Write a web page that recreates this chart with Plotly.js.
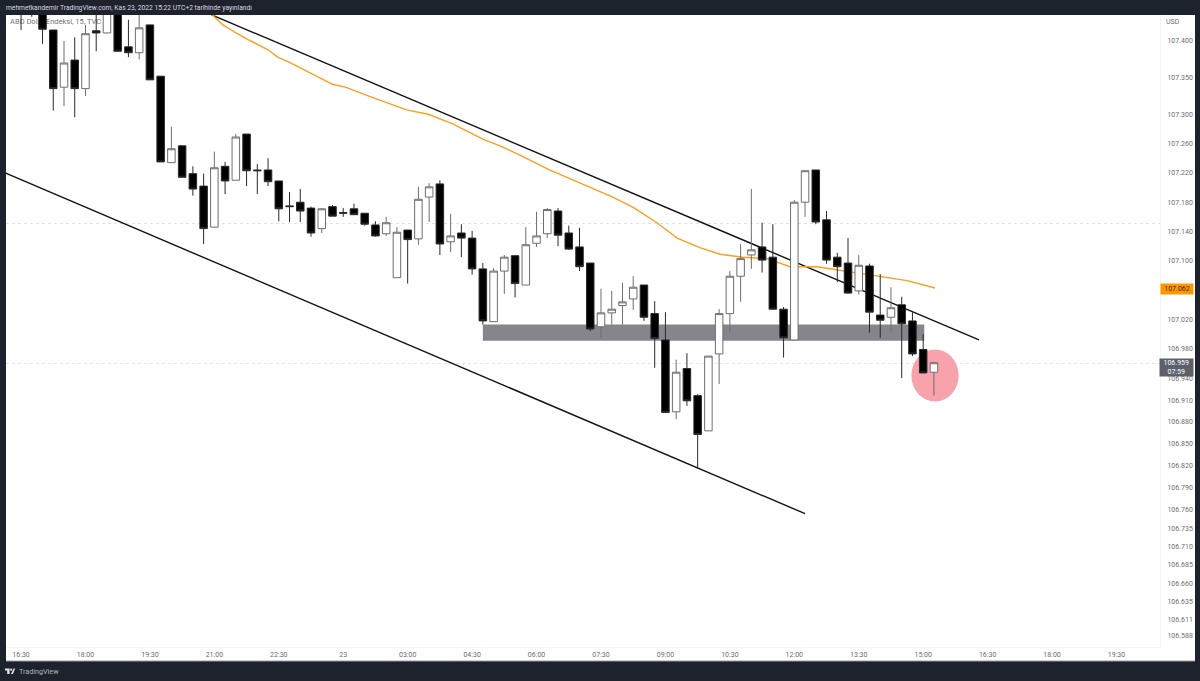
<!DOCTYPE html>
<html><head><meta charset="utf-8">
<script src="https://cdn.plot.ly/plotly-3.0.1.min.js"></script>
<style>html,body{margin:0;padding:0;background:#1e222d}#chart{width:1200px;height:681px}</style>
</head><body><div id="chart"></div>
<script>
const opens = [107.449,107.445,107.449,107.415,107.337,107.374,107.335,107.414,107.411,107.449,107.392,107.384,107.422,107.352,107.234,107.257,107.219,107.202,107.146,107.229,107.210,107.273,107.224,107.224,107.209,107.175,107.180,107.172,107.144,107.174,107.166,107.171,107.165,107.149,107.137,107.077,107.142,107.130,107.187,107.205,107.126,107.138,107.131,107.089,107.017,107.086,107.107,107.067,107.124,107.137,107.168,107.138,107.119,107.097,107.010,107.029,107.039,107.048,107.067,107.028,106.992,106.894,106.953,106.916,106.868,106.973,107.028,107.079,107.108,107.119,107.105,107.034,106.992,107.180,107.224,107.156,107.105,107.097,107.059,107.093,107.026,107.023,107.040,107.018,106.979,106.948];
const highs = [107.452,107.452,107.452,107.415,107.400,107.405,107.422,107.449,107.452,107.452,107.429,107.449,107.422,107.352,107.283,107.257,107.229,107.219,107.249,107.235,107.273,107.273,107.232,107.240,107.209,107.194,107.198,107.174,107.172,107.176,107.172,107.178,107.165,107.154,107.160,107.146,107.142,107.201,107.206,107.210,107.164,107.150,107.141,107.097,107.090,107.108,107.107,107.146,107.167,107.172,107.172,107.148,107.145,107.097,107.062,107.059,107.070,107.079,107.067,107.045,107.030,106.965,106.974,106.918,106.970,107.034,107.086,107.123,107.198,107.152,107.150,107.037,107.183,107.223,107.224,107.168,107.111,107.131,107.108,107.096,107.082,107.064,107.051,107.030,107.000,106.961];
const lows = [107.415,107.433,107.396,107.305,107.311,107.296,107.325,107.386,107.411,107.386,107.378,107.375,107.347,107.235,107.234,107.214,107.189,107.123,107.145,107.191,107.210,107.202,107.191,107.202,107.154,107.153,107.153,107.133,107.138,107.161,107.160,107.163,107.148,107.133,107.134,107.077,107.069,107.122,107.153,107.108,107.112,107.105,107.081,107.013,107.017,107.055,107.050,107.067,107.119,107.131,107.120,107.115,107.086,107.004,106.995,107.013,107.013,107.033,107.018,106.954,106.893,106.884,106.902,106.816,106.868,106.932,107.002,107.044,107.089,107.084,107.034,106.968,106.992,107.160,107.150,107.096,107.071,107.055,107.054,107.002,106.995,107.002,106.940,106.970,106.947,106.916];
const closes = [107.440,107.440,107.416,107.335,107.370,107.335,107.410,107.411,107.449,107.386,107.384,107.418,107.347,107.235,107.253,107.214,107.198,107.144,107.227,107.209,107.269,107.223,107.223,107.208,107.171,107.174,107.168,107.138,107.171,107.161,107.165,107.163,107.150,107.134,107.152,107.139,107.129,107.184,107.201,107.123,107.134,107.131,107.089,107.018,107.086,107.105,107.069,107.122,107.134,107.170,107.135,107.116,107.092,107.007,107.029,107.034,107.044,107.064,107.023,106.994,106.893,106.948,106.909,106.863,106.970,107.028,107.079,107.103,107.115,107.101,107.034,106.995,107.180,107.223,107.153,107.101,107.092,107.056,107.094,107.030,107.019,107.036,107.014,106.973,106.947,106.961];

const maIndex = [17.8,18.8,19.9,21.0,23.0,23.9,25.0,27.2,29.0,30.2,32.5,35.9,37.9,40.2,43.0,44.6,46.5,49.2,52.0,55.1,57.0,59.2,61.1,63.2,65.1,67.2,69.5,71.6,74.1,76.9,80.3,82.5,85.1];
const maValues = [107.436,107.422,107.412,107.403,107.388,107.378,107.371,107.355,107.341,107.337,107.324,107.306,107.300,107.287,107.266,107.257,107.244,107.224,107.206,107.187,107.173,107.152,107.131,107.118,107.109,107.105,107.103,107.092,107.092,107.086,107.078,107.073,107.063];

const upperTrendIndex = [17.7,89.2];
const upperTrendValues = [107.436,106.992];
const lowerTrendIndex = [-1.49,73.0];
const lowerTrendValues = [107.220,106.755];

const priceTicks = [107.400,107.350,107.300,107.260,107.220,107.180,107.140,107.100,107.020,106.980,106.940,106.910,106.880,106.850,106.820,106.790,106.760,106.735,106.710,106.685,106.660,106.635,106.611,106.588];
const timeTickIndex = [0,6,12,18,24,30,36,42,48,54,60,66,72,78,84,90,96,102];
const timeTickLabels = ["16:30","18:00","19:30","21:00","22:30","23","03:00","04:30","06:00","07:30","09:00","10:30","12:00","13:30","15:00","16:30","18:00","19:30"];

const zoneIndex = [43.0,84.1];
const zoneValues = [106.991,107.013];
const circleIndex = [82.9,87.3];
const circleValues = [106.908,106.979];
const levelValues = [107.151,106.960];
const maLastValue = 107.062;
const lastPrice = 106.959;

const candleIndex = opens.map((_, i) => i);
const W = 1200, H = 681, ML = 6, MR = 40, MT = 15, MB = 34;
const PW = W - ML - MR, PH = H - MT - MB;
const px = x => (x - ML) / PW;
const py = y => (H - MB - y) / PH;
const xRange = [-1.4, 106.05];
const yRange = [106.573, 107.4355];
const FONT = 'Roboto, sans-serif';
const TICK = '#6b6c70';
const logoPath = [[5,668.5],[9.6,668.5],[9.6,674],[7.2,674],[7.2,670.6],[5,670.6]];
const logoSlash = [[11,674],[13.6,668.5],[15.2,668.5],[12.9,674]];
const toPath = pts => 'M' + pts.map(p => px(p[0]) + ',' + py(p[1])).join('L') + 'Z';

const traces = [
  {type:'scatter', mode:'lines', x:lowerTrendIndex, y:lowerTrendValues, line:{color:'#131313', width:1.4}, hoverinfo:'skip', showlegend:false},
  {type:'scatter', mode:'lines', x:upperTrendIndex, y:upperTrendValues, line:{color:'#131313', width:1.4}, hoverinfo:'skip', showlegend:false},
  {type:'scatter', mode:'lines', x:maIndex, y:maValues, line:{color:'#ff9d1e', width:1.4}, hoverinfo:'skip', showlegend:false},
  {type:'scatter', mode:'text', x:[-1.02], y:[107.426], text:['ABD Dolar Endeksi, 15, TVC'], textposition:'middle right', textfont:{family:FONT, size:7.5, color:'#6f7075'}, hoverinfo:'skip', showlegend:false},
  {type:'candlestick', x:candleIndex, open:opens, high:highs, low:lows, close:closes, xaxis:'x2', yaxis:'y2',
   increasing:{line:{color:'#6e6e6e', width:1}, fillcolor:'#ffffff'},
   decreasing:{line:{color:'#2a2a2a', width:1}, fillcolor:'#000000'},
   hoverinfo:'skip', showlegend:false}
];

const layout = {
  width:W, height:H, margin:{l:ML, r:MR, t:MT, b:MB},
  paper_bgcolor:'#1e222d', plot_bgcolor:'#ffffff', showlegend:false, boxmode:'overlay', boxgap:0.3, boxgroupgap:0,
  title:{text:'mehmetkandemir TradingView.com, Kas 23, 2022 15:22 UTC+2 tarihinde yayınlandı', x:6/W, xanchor:'left', xref:'container', y:1-7.5/H, yref:'container', yanchor:'middle', font:{family:FONT, size:6.7, color:'#d8dae0'}},
  xaxis:{type:'linear', range:xRange, tickmode:'array', tickvals:timeTickIndex, ticktext:timeTickLabels, showgrid:false, zeroline:false, showline:true, linecolor:'#f4f4f4', linewidth:1, ticks:'', tickfont:{family:FONT, size:7, color:TICK}, ticklabelstandoff:1},
  yaxis:{type:'linear', side:'right', range:yRange, tickmode:'array', tickvals:priceTicks, ticktext:priceTicks.map(v => v.toFixed(3)), showgrid:false, zeroline:false, showline:true, linecolor:'#f4f4f4', linewidth:1, ticks:'', tickfont:{family:FONT, size:7, color:TICK}, ticklabelstandoff:5},
  xaxis2:{type:'linear', overlaying:'x', range:xRange, visible:false, rangeslider:{visible:false}},
  yaxis2:{type:'linear', overlaying:'y', range:yRange, visible:false},
  shapes:[
    {type:'rect', xref:'paper', yref:'paper', x0:0, x1:px(1195), y0:py(661), y1:1, layer:'below', fillcolor:'#ffffff', line:{width:0}},
    {type:'line', xref:'paper', yref:'paper', x0:0, x1:px(1195), y0:py(661), y1:py(661), layer:'below', line:{color:'#9a9ca3', width:1}},
    {type:'line', xref:'paper', yref:'y', x0:0, x1:1, y0:levelValues[0], y1:levelValues[0], layer:'below', line:{color:'#e2e2e4', width:1, dash:'dot'}},
    {type:'line', xref:'paper', yref:'y', x0:0, x1:1, y0:levelValues[1], y1:levelValues[1], layer:'below', line:{color:'#e2e2e4', width:1, dash:'dot'}},
    {type:'rect', xref:'x', yref:'y', x0:zoneIndex[0], x1:zoneIndex[1], y0:zoneValues[0], y1:zoneValues[1], layer:'below', fillcolor:'#85868c', line:{width:0}},
    {type:'circle', xref:'x', yref:'y', x0:circleIndex[0], x1:circleIndex[1], y0:circleValues[0], y1:circleValues[1], layer:'below', fillcolor:'#f8a2ab', line:{width:0}},
    {type:'path', xref:'paper', yref:'paper', path:toPath(logoPath), fillcolor:'#e3e5ea', line:{width:0}},
    {type:'path', xref:'paper', yref:'paper', path:toPath(logoSlash), fillcolor:'#e3e5ea', line:{width:0}},
    {type:'circle', xref:'paper', yref:'paper', x0:px(10), x1:px(12.2), y0:py(670.8), y1:py(668.6), fillcolor:'#e3e5ea', line:{width:0}}
  ],
  annotations:[
    {xref:'paper', yref:'paper', x:px(1165), y:py(22.5), xanchor:'left', yanchor:'middle', text:'USD', showarrow:false, borderpad:0, font:{family:FONT, size:7, color:TICK}},
    {xref:'paper', yref:'paper', x:px(17.5), y:py(671), xanchor:'left', yanchor:'middle', text:'TradingView', showarrow:false, borderpad:0, font:{family:FONT, size:7.2, color:'#b2b5be'}},
    {xref:'paper', yref:'y', x:px(1159.5), y:maLastValue, xanchor:'left', yanchor:'middle', width:32, height:10, align:'center', text:maLastValue.toFixed(3), showarrow:false, borderpad:0, bgcolor:'#ff9800', font:{family:FONT, size:7, color:'#3a2a10'}},
    {xref:'paper', yref:'paper', x:px(1159), y:py(367.5), xanchor:'left', yanchor:'middle', width:32.5, height:17, align:'center', text:lastPrice.toFixed(3)+'<br>07:59', showarrow:false, borderpad:0, bgcolor:'#5d606b', font:{family:FONT, size:7, color:'#ffffff'}}
  ]
};
Plotly.newPlot('chart', traces, layout, {staticPlot:true, displayModeBar:false});
</script></body></html>
